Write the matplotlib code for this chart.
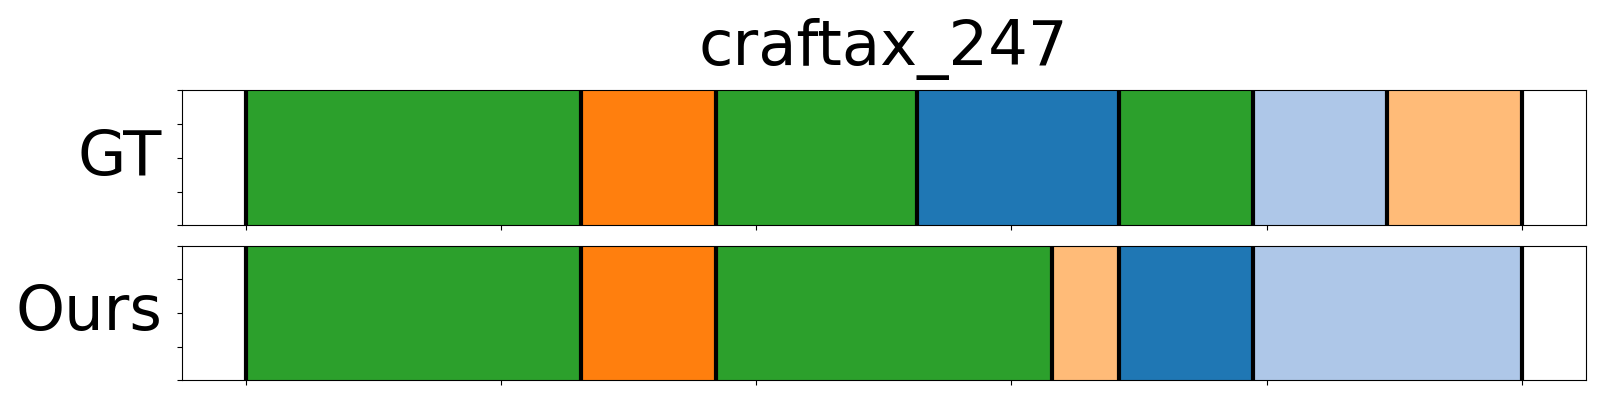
import numpy as np
import matplotlib.pyplot as plt

n_steps = 19
title = "craftax_247"
row_names = ["GT", "Ours"]

# segment boundaries (in steps) and class of each segment
gt_bounds = [0, 5, 7, 10, 13, 15, 17, 19]
gt_labels = ["green", "orange", "green", "blue", "green", "lightblue", "lightorange"]
ours_bounds = [0, 5, 7, 12, 13, 15, 19]
ours_labels = ["green", "orange", "green", "lightorange", "blue", "lightblue"]

colors = {
    "blue": "#1f77b4",
    "lightblue": "#aec7e8",
    "orange": "#ff7f0e",
    "lightorange": "#ffbb78",
    "green": "#2ca02c",
}

fig = plt.figure(figsize=(16, 4), dpi=100)
ax_gt = fig.add_axes([0.1136, 0.437, 0.8774, 0.337])
ax_ours = fig.add_axes([0.1136, 0.049, 0.8774, 0.337])

for ax, bounds, labels, name in [(ax_gt, gt_bounds, gt_labels, row_names[0]),
                                 (ax_ours, ours_bounds, ours_labels, row_names[1])]:
    x = np.array(bounds) / n_steps
    for i, lab in enumerate(labels):
        ax.axvspan(x[i], x[i + 1], ymin=0, ymax=1, color=colors[lab], lw=1)
    for b in x:
        ax.axvline(b, color="black", lw=3)
    ax.set_xlim(-0.05, 1.05)
    ax.set_ylim(0, 1)
    ax.set_xticks(np.linspace(0, 1, 6))
    ax.set_yticks([0, 0.25, 0.5, 0.75, 1.0])
    ax.set_xticklabels([])
    ax.set_yticklabels([])
    ax.set_ylabel(name, fontsize=45, rotation=0, ha="right", va="center", labelpad=7)

ax_gt.set_title(title, fontsize=45, pad=18)

fig.savefig("out.png", dpi=100)
